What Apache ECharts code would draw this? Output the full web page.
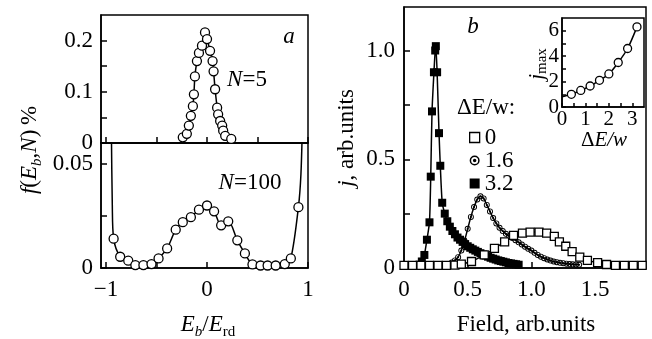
<!DOCTYPE html>
<html>
<head>
<meta charset="utf-8">
<script src="https://cdn.jsdelivr.net/npm/echarts@6/dist/echarts.min.js"></script>
<style>
  html, body { margin: 0; padding: 0; background: #fff; }
  #chart { width: 652px; height: 339px; }
</style>
</head>
<body>
<div id="chart"></div>
<script>
// panel a, top: N=5
const n5X = [-0.24, -0.2, -0.18, -0.16, -0.14, -0.13, -0.12, -0.1, -0.08, -0.05, -0.02, 0, 0.03, 0.055, 0.065, 0.08, 0.1, 0.11, 0.13, 0.15, 0.16, 0.18, 0.24]
const n5Y = [0.011, 0.018, 0.034, 0.053, 0.072, 0.095, 0.13, 0.16, 0.176, 0.19, 0.216, 0.203, 0.18, 0.16, 0.14, 0.105, 0.069, 0.056, 0.043, 0.034, 0.024, 0.014, 0.008]

// panel a, bottom: N=100 (points + fitted curve ends that leave the frame)
const n100X = [-0.925, -0.86, -0.78, -0.71, -0.63, -0.55, -0.48, -0.395, -0.31, -0.24, -0.16, -0.08, 0, 0.07, 0.14, 0.21, 0.3, 0.375, 0.45, 0.53, 0.6, 0.68, 0.77, 0.83, 0.905]
const n100Y = [0.0141, 0.0054, 0.0035, 0.0014, 0.0014, 0.0019, 0.0046, 0.0094, 0.0184, 0.022, 0.0244, 0.028, 0.030, 0.0272, 0.0205, 0.0224, 0.0133, 0.007, 0.0017, 0.0012, 0.0012, 0.0012, 0.0019, 0.0046, 0.0292]
const n100LeftEndX = [-0.948, -0.938]
const n100LeftEndY = [0.07, 0.03]
const n100RightEndX = [0.93, 0.945]
const n100RightEndY = [0.045, 0.07]

// panel b: current vs field, three values of dE/w
const f0X = [0, 0.067, 0.133, 0.2, 0.267, 0.333, 0.4, 0.45, 0.53, 0.63, 0.71, 0.79, 0.86, 0.93, 0.99, 1.06, 1.12, 1.18, 1.22, 1.27, 1.32, 1.38, 1.44, 1.52, 1.59, 1.66, 1.73, 1.8, 1.87]
const f0Y = [0.012, 0.012, 0.012, 0.012, 0.012, 0.012, 0.013, 0.018, 0.03, 0.06, 0.09, 0.12, 0.15, 0.16, 0.165, 0.165, 0.16, 0.145, 0.12, 0.1, 0.075, 0.05, 0.035, 0.025, 0.016, 0.012, 0.012, 0.012, 0.012]
const f16X = [0.3, 0.325, 0.35, 0.375, 0.4, 0.425, 0.45, 0.475, 0.5, 0.525, 0.55, 0.575, 0.6, 0.625, 0.65, 0.675, 0.7, 0.725, 0.75, 0.775, 0.8, 0.825, 0.85, 0.875, 0.9, 0.925, 0.95, 0.975, 1.0, 1.025, 1.05, 1.075, 1.1, 1.125, 1.15, 1.175, 1.2, 1.225, 1.25, 1.275, 1.3, 1.325, 1.35, 1.375]
const f16Y = [0.012, 0.014, 0.018, 0.025, 0.035, 0.05, 0.08, 0.125, 0.18, 0.235, 0.28, 0.315, 0.33, 0.32, 0.29, 0.26, 0.23, 0.205, 0.185, 0.17, 0.157, 0.147, 0.138, 0.128, 0.118, 0.108, 0.098, 0.088, 0.08, 0.07, 0.06, 0.052, 0.045, 0.039, 0.034, 0.03, 0.027, 0.024, 0.022, 0.02, 0.018, 0.017, 0.016, 0.015]
const f32X = [0.1, 0.12, 0.14, 0.16, 0.18, 0.2, 0.21, 0.22, 0.235, 0.245, 0.25, 0.26, 0.275, 0.285, 0.3, 0.32, 0.34, 0.36, 0.38, 0.4, 0.42, 0.44, 0.46, 0.48, 0.5, 0.52, 0.54, 0.56, 0.58, 0.6, 0.62, 0.64, 0.66, 0.68, 0.7, 0.72, 0.74, 0.76, 0.78, 0.8, 0.82, 0.84, 0.86, 0.88, 0.9]
const f32Y = [0.01, 0.015, 0.03, 0.06, 0.13, 0.21, 0.42, 0.72, 0.9, 1.0, 1.02, 0.9, 0.62, 0.47, 0.3, 0.25, 0.215, 0.19, 0.17, 0.155, 0.14, 0.13, 0.12, 0.11, 0.1, 0.093, 0.086, 0.08, 0.074, 0.068, 0.062, 0.057, 0.052, 0.047, 0.043, 0.039, 0.035, 0.032, 0.029, 0.026, 0.023, 0.021, 0.019, 0.017, 0.015]
const legendNames = ['0', '1.6', '3.2']

// inset: j_max vs dE/w
const insX = [0.4, 0.8, 1.2, 1.6, 2.0, 2.4, 2.8, 3.2]
const insY = [1.0, 1.3, 1.65, 2.1, 2.6, 3.5, 4.6, 6.3]
const insStartX = [0]
const insStartY = [0.8]

// tick positions
const aXTicks = [-1, -0.5, 0, 0.5, 1]
const aXLabels = [-1, 0, 1]
const aTopYTicks = [0, 0.05, 0.1, 0.15, 0.2]
const aTopYLabels = [0, 0.1, 0.2]
const aBotYTicks = [0, 0.025, 0.05]
const aBotYLabels = [0, 0.05]
const bXTicks = [0, 0.5, 1, 1.5]
const bYTicks = [0, 0.25, 0.5, 0.75, 1]
const bYLabels = [0, 0.5, 1]
const insXTicks = [0, 0.5, 1, 1.5, 2, 2.5, 3]
const insXLabels = [0, 1, 2, 3]
const insYTicks = [0, 1, 2, 3, 4, 5, 6]
const insYLabels = [0, 2, 4, 6]

const SERIF = 'Liberation Serif'
const pairs = (xs, ys) => xs.map((x, i) => [x, ys[i]])
const ringPath = 'path://M0,10A10,10 0 1,0 20,10A10,10 0 1,0 0,10Z M3,10A7,7 0 1,1 17,10A7,7 0 1,1 3,10Z M6.5,10A3.5,3.5 0 1,0 13.5,10A3.5,3.5 0 1,0 6.5,10Z'

function axis(gridIndex, min, max, ticks, labels, fmt, opts) {
  opts = opts || {}
  return {
    type: 'value',
    gridIndex,
    min,
    max,
    axisLine: { show: true, onZero: false, lineStyle: { color: '#000', width: 1.5 } },
    axisTick: {
      show: true,
      inside: true,
      length: opts.tickLen || 6,
      customValues: ticks,
      lineStyle: { color: '#000', width: 1.5 }
    },
    axisLabel: labels
      ? {
          show: true,
          customValues: labels,
          formatter: fmt,
          color: '#000',
          fontFamily: SERIF,
          fontSize: opts.fontSize || 23,
          margin: opts.margin || 8
        }
      : { show: false },
    splitLine: { show: false }
  }
}

const rich = {
  i: { fontStyle: 'italic', fontSize: 23, fontFamily: SERIF, lineHeight: 30, fill: '#000' },
  n: { fontSize: 23, fontFamily: SERIF, lineHeight: 30, fill: '#000' },
  si: { fontStyle: 'italic', fontSize: 15, fontFamily: SERIF, lineHeight: 15, verticalAlign: 'bottom', fill: '#000' },
  s: { fontSize: 15, fontFamily: SERIF, lineHeight: 15, verticalAlign: 'bottom', fill: '#000' },
  ii: { fontStyle: 'italic', fontSize: 21, fontFamily: SERIF, lineHeight: 26, fill: '#000' },
  nn: { fontSize: 21, fontFamily: SERIF, lineHeight: 26, fill: '#000' }
}

function label(x, y, text, rotate) {
  return {
    type: 'text',
    x,
    y,
    rotation: rotate ? Math.PI / 2 : 0,
    z: 100,
    style: { text, rich, align: 'center', verticalAlign: 'middle', textAlign: 'center', textVerticalAlign: 'middle' }
  }
}

const openSym = { color: '#fff', borderColor: '#000', borderWidth: 1.3, opacity: 1 }
const blackLine = { color: '#000', width: 1.5 }

const chart = echarts.init(document.getElementById('chart'))
chart.setOption({
  animation: false,
  backgroundColor: '#fff',
  textStyle: { fontFamily: SERIF },
  grid: [
    { left: 101, top: 15, width: 207, height: 128, show: true, borderColor: '#000', borderWidth: 1.5 },
    { left: 101, top: 143, width: 207, height: 125, show: true, borderColor: '#000', borderWidth: 1.5 },
    { left: 404, top: 7, width: 242, height: 261, show: true, borderColor: '#000', borderWidth: 1.5 },
    { left: 562, top: 18, width: 82, height: 89, show: true, borderColor: '#000', borderWidth: 1.5, backgroundColor: '#fff' }
  ],
  xAxis: [
    axis(0, -1.05, 1, aXTicks, null),
    axis(1, -1.05, 1, aXTicks, aXLabels, v => (v < 0 ? '\u2212' + Math.abs(v) : String(v)), { margin: 10 }),
    axis(2, 0, 1.9, bXTicks, bXTicks, v => (v === 0 ? '0' : v.toFixed(1)), { margin: 10 }),
    axis(3, 0, 3.5, insXTicks, insXLabels, v => String(v), { fontSize: 21, margin: 2, tickLen: 4 })
  ],
  yAxis: [
    axis(0, 0, 0.25, aTopYTicks, aTopYLabels, v => (v === 0 ? '0' : String(v))),
    axis(1, 0, 0.06, aBotYTicks, aBotYLabels, v => (v === 0 ? '0' : String(v))),
    axis(2, 0, 1.2, bYTicks, bYLabels, v => (v === 0 ? '0' : v.toFixed(1)), { margin: 9 }),
    axis(3, 0, 7, insYTicks, insYLabels, v => String(v), { fontSize: 21, margin: 3, tickLen: 4 })
  ],
  legend: {
    orient: 'vertical',
    left: 464,
    top: 121,
    itemGap: 0,
    itemWidth: 10,
    itemHeight: 10,
    textStyle: { fontFamily: SERIF, fontSize: 23, color: '#000', lineHeight: 22 },
    data: [
      { name: legendNames[0], icon: 'rect', itemStyle: openSym },
      { name: legendNames[1], icon: ringPath, itemStyle: { color: '#000', borderWidth: 0 } },
      { name: legendNames[2], icon: 'rect', itemStyle: { color: '#000', borderWidth: 0 } }
    ]
  },
  series: [
    {
      type: 'line', xAxisIndex: 0, yAxisIndex: 0,
      data: pairs(n5X, n5Y), smooth: 0.3,
      symbol: 'circle', symbolSize: 9, itemStyle: openSym, lineStyle: blackLine
    },
    {
      type: 'line', xAxisIndex: 1, yAxisIndex: 1,
      data: pairs(n100LeftEndX.concat(n100X, n100RightEndX), n100LeftEndY.concat(n100Y, n100RightEndY)),
      smooth: 0.3, showSymbol: false, symbol: 'none', lineStyle: blackLine
    },
    {
      type: 'scatter', xAxisIndex: 1, yAxisIndex: 1, z: 3,
      data: pairs(n100X, n100Y), symbol: 'circle', symbolSize: 9, itemStyle: openSym
    },
    {
      name: legendNames[0], type: 'line', xAxisIndex: 2, yAxisIndex: 2, z: 4,
      data: pairs(f0X, f0Y), smooth: 0.3,
      symbol: 'rect', symbolSize: 8, itemStyle: openSym, lineStyle: blackLine
    },
    {
      name: legendNames[1], type: 'line', xAxisIndex: 2, yAxisIndex: 2, z: 3,
      data: pairs(f16X, f16Y), smooth: 0.3,
      symbol: ringPath, symbolSize: 6, itemStyle: { color: '#000' }, lineStyle: blackLine
    },
    {
      name: legendNames[2], type: 'line', xAxisIndex: 2, yAxisIndex: 2, z: 2,
      data: pairs(f32X, f32Y), smooth: 0.2,
      symbol: 'rect', symbolSize: 8, itemStyle: { color: '#000' }, lineStyle: blackLine
    },
    {
      type: 'line', xAxisIndex: 3, yAxisIndex: 3, z: 5,
      data: pairs(insStartX.concat(insX), insStartY.concat(insY)),
      smooth: 0.3, showSymbol: false, symbol: 'none', lineStyle: blackLine
    },
    {
      type: 'scatter', xAxisIndex: 3, yAxisIndex: 3, z: 6,
      data: pairs(insX, insY), symbol: 'circle', symbolSize: 8, itemStyle: openSym
    }
  ],
  graphic: [
    label(30, 150, '{i|f}{n|(}{i|E}{si|b}{n|,}{i|N}{n|)\u2009%}', true),
    label(208, 325, '{i|E}{si|b}{n|/}{i|E}{s|rd}'),
    label(347, 138, '{i|j}{n|, arb.units}', true),
    label(526, 325, '{n|Field, arb.units}'),
    label(537, 64, '{ii|j}{s|max}', true),
    label(604, 140, '{nn|\u0394}{ii|E/w}'),
    label(289, 37, '{i|a}'),
    label(473, 27, '{i|b}'),
    label(247, 80, '{i|N}{n|=5}'),
    label(250, 183, '{i|N}{n|=100}'),
    {
      type: 'text', left: 457, top: 96, z: 100,
      style: { text: '\u0394E/w:', font: '23px ' + SERIF, fill: '#000' }
    }
  ]
})
</script>
</body>
</html>
